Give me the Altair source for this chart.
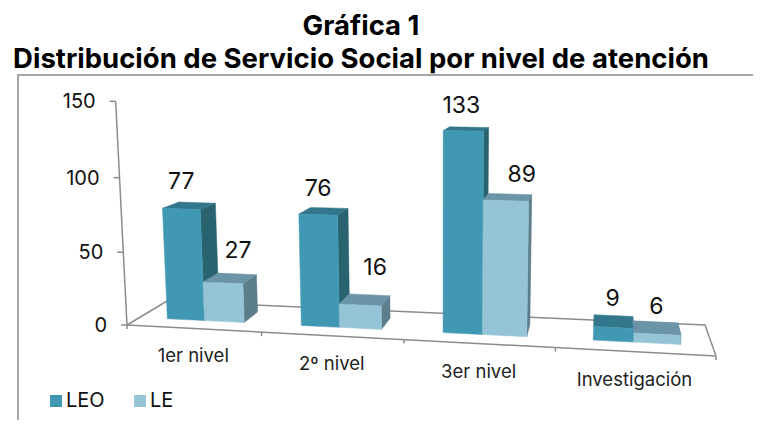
import altair as alt
import pandas as pd

CATEGORIES = ["1er nivel", "2º nivel", "3er nivel", "Investigación"]
LEO = [77, 76, 133, 9]
LE = [27, 16, 89, 6]
SERIES = ["LEO", "LE"]
AXIS_TICKS = [0, 50, 100, 150]
TITLE_LINES = ["Gráfica 1", "Distribución de Servicio Social por nivel de atención"]

COLORS = {"LEO": "#4198B3", "LE": "#95C4D6", "LEO top": "#32778C", "LEO side": "#29636F",
          "LE top": "#6B94A6", "LE side": "#5C7E8C"}
FONT = "Inter"
GRAY = "#8C8C8C"

# Perspective camera: floor corners on the page, then the vertical vanishing point
F0, F1, B1, B0 = (127, 325), (716, 356), (705, 325), (167, 301)
VX, VY, VW = 440.0, 6500.0, -0.000233
U_WARP, V_FALLOFF = 0.05, 0.07
(x0, y0), (x1, y1), (x2, y2), (x3, y3) = F0, F1, B1, B0
dx1, dx2, sx = x1 - x2, x3 - x2, x0 - x1 + x2 - x3
dy1, dy2, sy = y1 - y2, y3 - y2, y0 - y1 + y2 - y3
det = dx1 * dy2 - dx2 * dy1
G = (sx * dy2 - dx2 * sy) / det
H = (dx1 * sy - sx * dy1) / det
A, B, C = x1 - x0 + G * x1, x3 - x0 + H * x3, x0
D, E, Fc = y1 - y0 + G * y1, y3 - y0 + H * y3, y0


def project(u, d, v=0.0):
    v = v * (1 - V_FALLOFF * u)
    u = u + U_WARP * u * (1 - u)
    w = G * u + H * d + 1 + v * VW
    return ((A * u + B * d + C + v * VW * VX) / w,
            (D * u + E * d + Fc + v * VW * VY) / w)


D0, D1 = 0.30, 0.72
GAP = 0.2
GAP_LEFT = 0.215
GAP_STEP = 0.008
SLOT = 1 / len(CATEGORIES)

faces = []
def add_face(name, color, corners):
    for k, c in enumerate(corners + corners[:1]):
        px, py = project(*c)
        faces.append({"face": name, "fill": color, "k": k, "px": px, "py": py})


labels = []
LABEL_NUDGE = {"LEO": [(0, -27), (0, -26), (-2, -25), (-1, -28)],
               "LE": [(15, -32), (15, -37), (16, -26), (-1, -27)]}
for i, cat in enumerate(CATEGORIES):
    left = (i + GAP_LEFT + GAP_STEP * i) * SLOT
    mid = (i + 0.5) * SLOT
    right = (i + 1 - GAP) * SLOT
    for s, (name, vals, ua, ub) in enumerate([("LEO", LEO, left, mid), ("LE", LE, mid, right)]):
        v = vals[i]
        tag = f"{i:02d}{s}"
        add_face(tag + "side", name + " side",
                 [(ub, D0, 0), (ub, D1, 0), (ub, D1, v), (ub, D0, v)])
        add_face(tag + "top", name + " top",
                 [(ua, D0, v), (ub, D0, v), (ub, D1, v), (ua, D1, v)])
        add_face(tag + "zfront", name,
                 [(ua, D0, 0), (ub, D0, 0), (ub, D0, v), (ua, D0, v)])
        cx, cy = project((ua + ub) / 2, D0, v)
        nx, ny = LABEL_NUDGE[name][i]
        labels.append({"px": cx + nx, "py": cy + ny, "t": str(v)})

lines = []
def add_line(name, pts):
    for k, p in enumerate(pts):
        px, py = project(*p)
        lines.append({"line": name, "k": k, "px": px, "py": py})


back_lines = []
for k, p in enumerate([(0, 0, 0), (0, 1, 0), (1, 1, 0), (1, 0, 0)]):
    px, py = project(*p)
    back_lines.append({"k": k, "px": px, "py": py})

add_line("value", [(0, 0, 0), (0, 0, AXIS_TICKS[-1])])
add_line("front", [(0, 0, 0), (1, 0, 0)])
ticks = []
for t in AXIS_TICKS:
    px, py = project(0, 0, t)
    ticks.append({"x1": px - 6, "x2": px, "py": py, "label": str(t), "lx": px - 20, "ly": py + 1})
cat_ticks = []
for i in range(len(CATEGORIES) + 1):
    px, py = project(i * SLOT, 0, 0)
    cat_ticks.append({"px": px, "y1": py, "y2": py + 4})
cat_labels = []
for i, cat in enumerate(CATEGORIES):
    px, py = project((i + 0.5) * SLOT, 0, 0)
    cat_labels.append({"px": px, "py": py + 28, "t": cat})

SX = alt.Scale(domain=[8, 753], range=[0, 745])
SY = alt.Scale(domain=[420, 8], range=[412, 0])
X = alt.X("px:Q", scale=SX, axis=None)
Y = alt.Y("py:Q", scale=SY, axis=None)
FILL_SCALE = alt.Scale(domain=list(COLORS), range=list(COLORS.values()))

frame = alt.Chart(pd.DataFrame({"px": [18, 18, 753], "py": [420, 75, 75], "k": [0, 1, 2]})).mark_line(
    color="#A6A6A6", strokeWidth=2).encode(x=X, y=Y, order="k:Q")

floor = alt.Chart(pd.DataFrame(back_lines)).mark_line(color=GRAY, strokeWidth=1.5).encode(x=X, y=Y, order="k:Q")
axes = alt.Chart(pd.DataFrame(lines)).mark_line(color=GRAY, strokeWidth=1.5).encode(
    x=X, y=Y, detail="line:N", order="k:Q")
tick_df = pd.DataFrame(ticks)
tick_rules = alt.Chart(tick_df).mark_rule(color=GRAY, strokeWidth=1.5).encode(
    x=alt.X("x1:Q", scale=SX, axis=None), x2="x2:Q", y=alt.Y("py:Q", scale=SY, axis=None))
cat_rules = alt.Chart(pd.DataFrame(cat_ticks)).mark_rule(color=GRAY, strokeWidth=1.5).encode(
    x=X, y=alt.Y("y1:Q", scale=SY, axis=None), y2="y2:Q")

bars = alt.Chart(pd.DataFrame(faces)).mark_line(strokeWidth=0.5).encode(
    x=X, y=Y, detail="face:N", order="k:Q",
    fill=alt.Fill("fill:N", scale=FILL_SCALE, legend=alt.Legend(
        title=None, orient="none", legendX=38, legendY=383, direction="horizontal", columns=2,
        values=SERIES, symbolType="square", symbolSize=144, symbolStrokeWidth=0,
        labelFont=FONT, labelFontSize=20, labelColor="#111111", columnPadding=25, labelOffset=0)),
    stroke=alt.Stroke("fill:N", scale=FILL_SCALE, legend=None))

tick_text = alt.Chart(tick_df).mark_text(font=FONT, fontSize=20, align="right", color="#111111").encode(
    x=alt.X("lx:Q", scale=SX, axis=None), y=alt.Y("ly:Q", scale=SY, axis=None), text="label:N")
value_text = alt.Chart(pd.DataFrame(labels)).mark_text(font=FONT, fontSize=23, color="#111111").encode(
    x=X, y=Y, text="t:N")
cat_text = alt.Chart(pd.DataFrame(cat_labels)).mark_text(font=FONT, fontSize=18.5, color="#222222").encode(
    x=X, y=Y, text="t:N")
title_text = alt.Chart(pd.DataFrame({"t": TITLE_LINES, "px": [361, 361], "py": [27, 60]})).mark_text(
    font=FONT, fontWeight="bold", fontSize=27.5, color="#000000").encode(x=X, y=Y, text="t:N")

chart = alt.layer(frame, floor, axes, tick_rules, cat_rules, bars, tick_text, value_text, cat_text,
                  title_text).properties(
    width=745, height=412, padding=0, autosize=alt.AutoSizeParams(type="none"),
    background="white").configure_view(stroke=None)

chart.save("out.html", embed_options={"renderer": "svg", "actions": False})
